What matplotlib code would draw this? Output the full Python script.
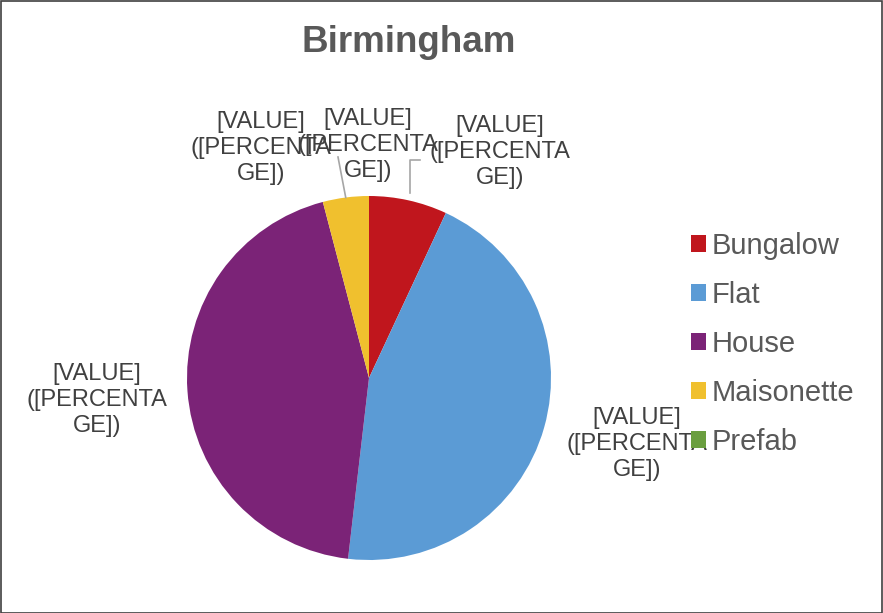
import numpy as np
import matplotlib
matplotlib.use("Agg")
import matplotlib.pyplot as plt
from matplotlib.patches import Rectangle

categories = ["Bungalow", "Flat", "House", "Maisonette", "Prefab"]
values = [17, 110, 108, 10, 0]
colors = ["#C0161D", "#5B9BD5", "#7B2377", "#F0C02E", "#6A9E3F"]
label_text = "[VALUE]\n([PERCENTA\nGE])"
title = "Birmingham"

W, H = 883, 613
plt.rcParams['font.family'] = ['Liberation Sans', 'DejaVu Sans']

fig = plt.figure(figsize=(W / 100, H / 100), dpi=100)
ax = fig.add_axes([0, 0, 1, 1])

def Y(y):
    return H - y

cx, cy, R = 369, Y(378), 182
wedges, _ = ax.pie(values, colors=colors, startangle=90, counterclock=False,
                   center=(cx, cy), radius=R,
                   wedgeprops=dict(edgecolor='none', linewidth=0))
ax.set_xlim(0, W)
ax.set_ylim(0, H)
ax.set_aspect('auto')
ax.axis('off')

# data labels (pixel positions of label centres)
label_pos = {
    "Bungalow": (500, 152),
    "Flat": (637, 444),
    "House": (97, 400),
    "Maisonette": (261, 148),
    "Prefab": (368, 145),
}
for cat in ["Prefab", "Bungalow", "Maisonette", "House", "Flat"]:
    x, y = label_pos[cat]
    ax.text(x, Y(y), label_text, ha='center', va='center', fontsize=17,
            color='#404040', linespacing=1.24, multialignment='center')

# leader lines
def rim_point(w, r):
    a = np.deg2rad((w.theta1 + w.theta2) / 2)
    return cx + r * np.cos(a), cy + r * np.sin(a)

wm = wedges[categories.index("Maisonette")]
x0, y0 = rim_point(wm, R)
ax.plot([x0, 338], [y0, Y(157)], color='#A6A6A6', lw=1.2)
wb = wedges[categories.index("Bungalow")]
x0, y0 = rim_point(wb, R + 7)
ax.plot([x0, x0, 420], [y0, Y(160), Y(160)], color='#A6A6A6', lw=1.2)

# legend
leg = ax.legend(wedges, categories, loc='upper left',
                bbox_to_anchor=(691, Y(232)), bbox_transform=ax.transData,
                frameon=False, fontsize=21, handlelength=0.51, handleheight=0.51,
                handletextpad=0.2, labelspacing=0.72, borderpad=0, borderaxespad=0)
for t in leg.get_texts():
    t.set_color('#595959')

fig.text(409 / W, 1 - 42 / H, title, ha='center', va='center', fontsize=26.5,
         fontweight='bold', color='#595959')

fig.patches.append(Rectangle((0.5 / W, 0.5 / H), 1 - 1.5 / W, 1 - 1.5 / H,
                             transform=fig.transFigure, fill=False,
                             edgecolor='#404040', linewidth=1.2))

fig.savefig("out.png", dpi=100)
